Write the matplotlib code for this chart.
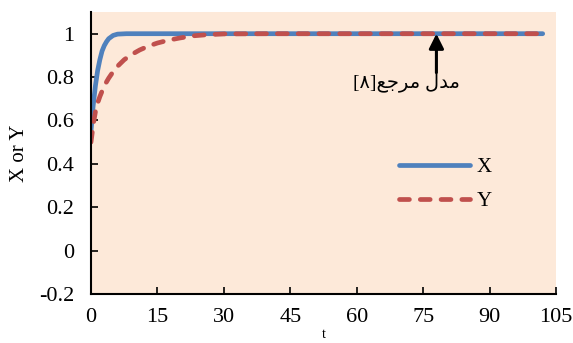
import matplotlib
matplotlib.use("Agg")
from matplotlib import pyplot as plt

# DATA ########################################################################

t_x = [0, 0.5, 1, 1.5, 2, 2.5, 3, 3.5, 4, 5, 6, 8, 20, 50, 102]
x_vals = [0.55, 0.67, 0.76, 0.83, 0.88, 0.92, 0.945, 0.963, 0.977, 0.992, 0.998, 1.0, 1.0, 1.0, 1.0]

t_y = [0, 0.5, 1, 1.5, 2, 3, 4, 5, 6, 7.5, 9, 11, 13, 15, 17.5, 20, 23, 26, 30, 40, 102]
y_vals = [0.5, 0.58, 0.64, 0.68, 0.71, 0.76, 0.795, 0.825, 0.85, 0.88, 0.902, 0.925, 0.943, 0.957, 0.97, 0.98, 0.99, 0.995, 0.999, 1.0, 1.0]

x_ticks = [0, 15, 30, 45, 60, 75, 90, 105]
y_ticks = [-0.2, 0, 0.2, 0.4, 0.6, 0.8, 1.0]
y_tick_labels = ["-0.2", "0", "0.2", "0.4", "0.6", "0.8", "1"]

# Arabic text in visual order (presentation forms): "مدل مرجع[۸]"
note_text = "[\u06F8]" + "\uFECA\uFE9F\uFEAE\uFEE3" + " " + "\uFEDD\uFEAA\uFEE3"

# PLOT ########################################################################

plt.rcParams["font.family"] = ["Liberation Serif", "DejaVu Sans"]

fig = plt.figure(figsize=(5.73, 3.43), dpi=100)
ax = fig.add_axes([0.1588, 0.1429, 0.9703 - 0.1588, 0.965 - 0.1429])
ax.set_facecolor("#FDE9D9")

ax.plot(t_x, x_vals, color="#4F81BD", lw=3.4, solid_capstyle="round", label="X")
ax.plot(t_y, y_vals, color="#C0504D", lw=3.4, ls=(0, (2.1, 2.3)),
        dash_capstyle="round", label="Y")

ax.set_xlim(0, 105)
ax.set_ylim(-0.2, 1.1)
ax.set_xticks(x_ticks)
ax.set_yticks(y_ticks)
ax.set_yticklabels(y_tick_labels)

for side in ("top", "right"):
    ax.spines[side].set_visible(False)
for side in ("left", "bottom"):
    ax.spines[side].set_linewidth(1.5)
    ax.spines[side].set_color("black")

ax.tick_params(direction="in", length=5, width=1.2, labelsize=16)
ax.tick_params(axis="y", pad=12)
ax.tick_params(axis="x", pad=10)

ax.set_ylabel("X or Y", fontsize=15, labelpad=7)
ax.set_xlabel("t", fontsize=10, labelpad=1)

ax.annotate("", xy=(78, 1.0), xytext=(78, 0.82),
            arrowprops=dict(arrowstyle="-|>", color="black", lw=2.2,
                            mutation_scale=22, shrinkA=0, shrinkB=0))
ax.text(83.3, 0.775, note_text, fontsize=14, ha="right", va="center",
        family=["Liberation Serif", "DejaVu Sans"])

leg = ax.legend(loc="upper left", bbox_to_anchor=(0.623, 0.55), frameon=False,
                fontsize=15, handlelength=3.4, handletextpad=0.3,
                labelspacing=0.7)

fig.savefig("out.png", dpi=100)
